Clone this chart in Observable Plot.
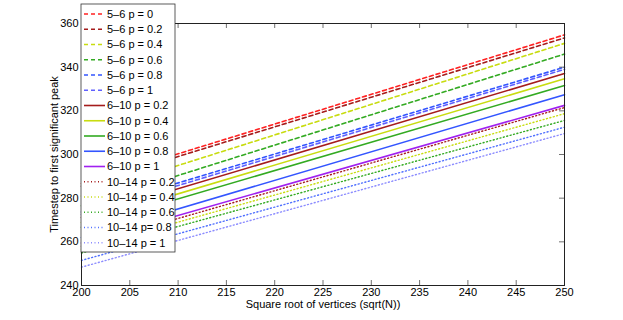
<!DOCTYPE html>
<html>
<head>
<meta charset="utf-8">
<script src="https://cdn.jsdelivr.net/npm/d3@7"></script>
<script src="https://cdn.jsdelivr.net/npm/@observablehq/plot@0.6"></script>
<style>
  html, body { margin: 0; padding: 0; background: #fff; }
  #chart { width: 623px; height: 320px; }
</style>
</head>
<body>
<div id="chart"></div>
<script>
// ---- data ----
const seriesNames = [
  "5–6 p = 0", "5–6 p = 0.2", "5–6 p = 0.4", "5–6 p = 0.6", "5–6 p = 0.8", "5–6 p = 1",
  "6–10 p = 0.2", "6–10 p = 0.4", "6–10 p = 0.6", "6–10 p = 0.8", "6–10 p = 1",
  "10–14 p = 0.2", "10–14 p = 0.4", "10–14 p = 0.6", "10–14 p= 0.8", "10–14 p = 1"
];
const seriesGroup = ["5–6","5–6","5–6","5–6","5–6","5–6",
  "6–10","6–10","6–10","6–10","6–10",
  "10–14","10–14","10–14","10–14","10–14"];
const xEnds = [200, 250];
const yAt200 = [286.7, 285.5, 281.0, 276.5, 273.7, 272.5,
                271.1, 268.8, 266.7, 262.0, 259.5,
                258.0, 256.6, 254.9, 251.5, 248.4];
const yAt250 = [354.8, 353.4, 350.9, 346.0, 340.0, 339.0,
                337.1, 334.7, 331.6, 327.4, 322.5,
                321.5, 318.7, 315.6, 312.5, 309.6];
const xTicks = [200, 205, 210, 215, 220, 225, 230, 235, 240, 245, 250];
const yTicks = [240, 260, 280, 300, 320, 340, 360];
const xLabel = "Square root of vertices (sqrt(N))";
const yLabel = "Timestep to first significant peak";

// ---- styles ----
const seriesColors = [
  "#ff2222", "#a51c1c", "#c8dc10", "#33aa22", "#3355ff", "#6060ff",
  "#a51c1c", "#c8dc10", "#33aa22", "#3355ff", "#a020f0",
  "#a51c1c", "#c8dc10", "#33aa22", "#5070ff", "#8c8cff"
];
const groupDash = {"5–6": "4,3", "6–10": null, "10–14": "1,2.5"};
const FONT = "'Liberation Sans', Arial, Helvetica, sans-serif";

const rows = [];
seriesNames.forEach((name, i) => {
  rows.push({series: name, group: seriesGroup[i], x: xEnds[0], y: yAt200[i]});
  rows.push({series: name, group: seriesGroup[i], x: xEnds[1], y: yAt250[i]});
});

const W = 623, H = 320;
const mL = 81, mR = 59, mT = 23, mB = 35;
const pw = W - mL - mR, ph = H - mT - mB;
const tick = 5;

const lineMarks = Object.keys(groupDash).map(g =>
  Plot.line(rows.filter(r => r.group === g), {
    x: "x", y: "y", z: "series", stroke: "series",
    strokeWidth: g === "10–14" ? 1.4 : 1.6,
    strokeDasharray: groupDash[g] || undefined
  })
);

const plot = Plot.plot({
  width: W, height: H,
  marginLeft: mL, marginRight: mR, marginTop: mT, marginBottom: mB,
  style: {fontFamily: FONT, fontSize: "11px", background: "#fff", color: "#000"},
  x: {domain: [200, 250], ticks: xTicks, label: null},
  y: {domain: [240, 360], ticks: yTicks, label: null},
  color: {domain: seriesNames, range: seriesColors},
  marks: [
    ...lineMarks,
    Plot.ruleX(xTicks, {x: d => d, insetTop: ph - tick, stroke: "#333", strokeWidth: 0.7}),
    Plot.ruleX(xTicks, {x: d => d, insetBottom: ph - tick, stroke: "#333", strokeWidth: 0.7}),
    Plot.ruleY(yTicks, {y: d => d, insetRight: pw - tick, stroke: "#333", strokeWidth: 0.7}),
    Plot.ruleY(yTicks, {y: d => d, insetLeft: pw - tick, stroke: "#333", strokeWidth: 0.7}),
    Plot.frame({stroke: "#222", strokeWidth: 1}),
    Plot.axisX({ticks: xTicks, tickSize: 0, tickPadding: 3, label: null, fontSize: 11}),
    Plot.axisY({ticks: yTicks, tickSize: 0, tickPadding: 3, label: null, fontSize: 11}),
    Plot.text([xLabel], {frameAnchor: "bottom", dy: 19, lineAnchor: "middle", textAnchor: "middle", fontSize: 11, fill: "#000"}),
    Plot.text([yLabel], {frameAnchor: "left", dx: -27, rotate: -90, textAnchor: "middle", lineAnchor: "middle", fontSize: 11, fill: "#000"})
  ]
});

// ---- legend (drawn on top, MATLAB style box) ----
const svg = d3.select(plot);
const lg = svg.append("g").attr("font-family", FONT).attr("font-size", 11)
  .attr("text-anchor", "start");
const boxX = 81, boxY = 4, boxW = 94, boxH = 248;
lg.append("rect").attr("x", boxX).attr("y", boxY).attr("width", boxW).attr("height", boxH)
  .attr("fill", "#fff").attr("stroke", "#333").attr("stroke-width", 0.8);
const rowStep = 15.25, firstRow = 14;
seriesNames.forEach((name, i) => {
  const cy = firstRow + i * rowStep;
  const g = seriesGroup[i];
  lg.append("line").attr("x1", 84).attr("x2", 105).attr("y1", cy).attr("y2", cy)
    .attr("stroke", seriesColors[i])
    .attr("stroke-width", g === "10–14" ? 1.4 : 1.6)
    .attr("stroke-dasharray", groupDash[g]);
  lg.append("text").attr("x", 107).attr("y", cy).attr("dy", "0.35em")
    .attr("text-anchor", "start").attr("fill", "#000").text(name);
});

document.getElementById("chart").appendChild(plot);
</script>
</body>
</html>
